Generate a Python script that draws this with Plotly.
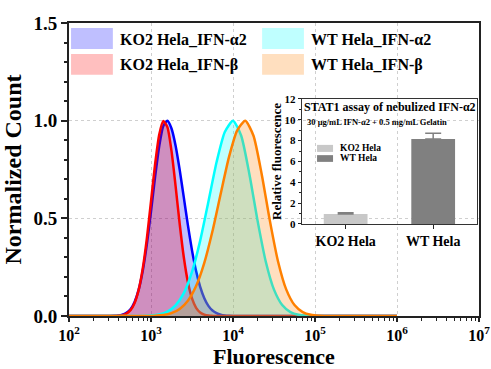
import plotly.graph_objects as go

# ---------------- data ----------------
# x positions are log10(fluorescence)
ko2_a2_logx = [2.0, 2.50, 2.55, 2.60, 2.65, 2.70, 2.75, 2.80, 2.85, 2.90, 2.95, 3.00, 3.05, 3.10, 3.15,
               3.20, 3.25, 3.30, 3.35, 3.40, 3.45, 3.50, 3.55, 3.60, 3.65, 3.70, 3.75, 3.80,
               3.85, 3.90, 3.95, 4.00, 6.0]
ko2_a2_y = [0.0, 0.0003, 0.0008, 0.0024, 0.0065, 0.016, 0.035, 0.072, 0.135, 0.233, 0.369, 0.535, 0.712,
            0.869, 0.973, 0.999, 0.960, 0.872, 0.748, 0.607, 0.465, 0.336, 0.230, 0.149, 0.091,
            0.052, 0.028, 0.015, 0.007, 0.003, 0.0014, 0.0005, 0.0]

ko2_b_logx = [2.0, 2.55, 2.60, 2.65, 2.70, 2.75, 2.80, 2.85, 2.90, 2.95, 3.00, 3.05, 3.10, 3.15, 3.20,
              3.25, 3.30, 3.35, 3.40, 3.45, 3.50, 3.55, 3.60, 3.65, 3.70, 3.75, 6.0]
ko2_b_y = [0.0, 0.0005, 0.0015, 0.0044, 0.012, 0.030, 0.067, 0.135, 0.245, 0.399, 0.587, 0.777, 0.928,
           0.998, 0.967, 0.845, 0.665, 0.471, 0.301, 0.174, 0.090, 0.042, 0.018, 0.007, 0.002,
           0.0007, 0.0]

wt_a2_logx = [2.0, 2.9, 3.0, 3.1, 3.2, 3.3, 3.4, 3.5, 3.6, 3.7, 3.8, 3.9, 4.0, 4.1, 4.2, 4.3, 4.4, 4.5,
              4.6, 4.7, 4.8, 4.9, 5.0, 6.0]
wt_a2_y = [0.0, 0.0006, 0.0026, 0.008, 0.022, 0.054, 0.117, 0.226, 0.386, 0.585, 0.788, 0.942, 1.0,
           0.923, 0.726, 0.487, 0.278, 0.135, 0.056, 0.020, 0.006, 0.0015, 0.0003, 0.0]

wt_b_logx = [2.0, 2.95, 3.05, 3.15, 3.25, 3.35, 3.45, 3.55, 3.65, 3.75, 3.85, 3.95, 4.05, 4.15, 4.25,
             4.35, 4.45, 4.55, 4.65, 4.75, 4.85, 4.95, 5.05, 5.15, 6.0]
wt_b_y = [0.0, 0.0005, 0.0018, 0.0055, 0.015, 0.036, 0.078, 0.153, 0.272, 0.435, 0.626, 0.812, 0.949,
          1.0, 0.923, 0.726, 0.487, 0.278, 0.135, 0.056, 0.020, 0.006, 0.0015, 0.0003, 0.0]

series_names = ["KO2 Hela_IFN-α2", "KO2 Hela_IFN-β", "WT Hela_IFN-α2", "WT Hela_IFN-β"]
line_colors = ["#0000ff", "#ff0000", "#00ffff", "#ff8000"]
fill_colors = ["rgba(0,0,255,0.25)", "rgba(255,0,0,0.25)", "rgba(0,255,255,0.25)", "rgba(255,128,0,0.25)"]

inset_categories = ["KO2 Hela", "WT Hela"]
inset_values = [0.97, 8.15]
inset_errors = [0.10, 0.55]
inset_colors = ["#c8c8c8", "#808080"]

x_tick_exponents = [2, 3, 4, 5, 6, 7]

# ---------------- figure ----------------
FONT = "Liberation Serif, Times New Roman, serif"
fig = go.Figure()

all_series = [(ko2_a2_logx, ko2_a2_y), (ko2_b_logx, ko2_b_y), (wt_a2_logx, wt_a2_y), (wt_b_logx, wt_b_y)]
for (lx, yy), name, lc, fc in zip(all_series, series_names, line_colors, fill_colors):
    fig.add_trace(go.Scatter(
        x=[10 ** v for v in lx], y=yy, name=name, mode="lines",
        line=dict(color=lc, width=2.5, shape="spline", smoothing=0.6),
        fill="tozeroy", fillcolor=fc, showlegend=False, xaxis="x", yaxis="y",
    ))

fig.add_trace(go.Bar(
    x=inset_categories, y=inset_values, marker=dict(color=inset_colors, line=dict(width=0)),
    width=0.5, xaxis="x2", yaxis="y2", showlegend=False,
    error_y=dict(type="data", array=inset_errors, arrayminus=[0, 0], symmetric=False,
                 color="#808080", thickness=1.5, width=8),
))

fig.update_layout(
    width=491, height=369,
    margin=dict(l=69, r=12, t=23, b=53, autoexpand=False),
    paper_bgcolor="white", plot_bgcolor="rgba(0,0,0,0)",
    font=dict(family=FONT, color="black", weight="bold"),
    xaxis=dict(
        type="log", range=[2, 7], domain=[0, 1], automargin=False,
        tickvals=[10 ** e for e in x_tick_exponents],
        ticktext=["<b>10<sup>%d</sup></b>" % e for e in x_tick_exponents],
        ticklabeloverflow="allow",
        ticks="outside", ticklen=4, tickwidth=1.5, tickcolor="#222",
        tickfont=dict(size=16, family=FONT, weight="bold"),
        showgrid=True, gridcolor="#cfcfcf", griddash="dot", gridwidth=1,
        minor=dict(ticks="outside", ticklen=3, tickcolor="#222", tickwidth=1,
                   tickvals=[m * 10 ** e for e in x_tick_exponents[:-1] for m in range(2, 10)],
                   showgrid=False),
        zeroline=False, showline=True, linecolor="#222", linewidth=1.8, mirror=True,
    ),
    yaxis=dict(
        range=[0, 1.5], domain=[0, 1], dtick=0.5, tickformat=".1f", automargin=False,
        ticks="outside", ticklen=6, tickwidth=1.5, tickcolor="#222",
        tickfont=dict(size=19, family=FONT, weight="bold"),
        showgrid=True, gridcolor="#cfcfcf", griddash="dot", gridwidth=1,
        minor=dict(ticks="outside", ticklen=3, tickcolor="#222", dtick=0.1, showgrid=False),
        title=dict(text="Normalized Count", font=dict(size=24, family=FONT, weight="bold"), standoff=6),
        zeroline=False, showline=True, linecolor="#222", linewidth=1.8, mirror=True,
    ),
    xaxis2=dict(
        domain=[0.568, 0.995], anchor="y2", range=[-0.5, 1.5], automargin=False,
        ticks="outside", ticklen=4, tickwidth=1, tickcolor="#222",
        tickfont=dict(size=14, family=FONT, weight="bold"),
        showgrid=False, zeroline=False, showline=True, linecolor="#333", linewidth=1.2, mirror=True,
    ),
    yaxis2=dict(
        domain=[0.314, 0.741], anchor="x2", range=[0, 12], dtick=2, automargin=False,
        ticks="outside", ticklen=3, tickwidth=1, tickcolor="#222",
        tickfont=dict(size=11, family=FONT, weight="bold"),
        minor=dict(ticks="outside", ticklen=2, tickcolor="#222", dtick=1, showgrid=False),
        showgrid=False, zeroline=False, showline=True, linecolor="#333", linewidth=1.2, mirror=True,
        title=dict(text="Relative fluorescence", font=dict(size=13, family=FONT, weight="bold"), standoff=0),
    ),
)

# x-axis title as an annotation so it sits just under the tick labels
fig.add_annotation(xref="paper", yref="paper", x=0.5, y=-0.138, text="Fluorescence",
                   showarrow=False, xanchor="center", yanchor="middle",
                   font=dict(size=22, family=FONT, weight="bold", color="black"))

# ---------------- main legend (manual, 2 x 2) ----------------
legend_cells = [
    (0.005, 0.107, 0.911, 0.983, 0.120, 0.945),
    (0.005, 0.107, 0.823, 0.894, 0.120, 0.857),
    (0.471, 0.573, 0.911, 0.983, 0.585, 0.945),
    (0.471, 0.573, 0.823, 0.894, 0.585, 0.857),
]
for (x0, x1, y0, y1, tx, ty), name, fc in zip(legend_cells, series_names, fill_colors):
    fig.add_shape(type="rect", xref="paper", yref="paper", x0=x0, x1=x1, y0=y0, y1=y1,
                  fillcolor=fc, line=dict(width=0), layer="above")
    fig.add_annotation(xref="paper", yref="paper", x=tx, y=ty, text=name, showarrow=False,
                       xanchor="left", yanchor="middle",
                       font=dict(size=16, family=FONT, weight="bold", color="black"))

# ---------------- inset texts and legend ----------------
fig.add_annotation(xref="paper", yref="paper", x=0.782, y=0.713, text="STAT1 assay of nebulized IFN-α2",
                   showarrow=False, xanchor="center", yanchor="middle",
                   font=dict(size=12, family=FONT, weight="bold", color="black"))
fig.add_annotation(xref="paper", yref="paper", x=0.576, y=0.662,
                   text="30 μg/mL IFN-α2 + 0.5 mg/mL Gelatin",
                   showarrow=False, xanchor="left", yanchor="middle",
                   font=dict(size=8.5, family=FONT, weight="bold", color="black"))
inset_leg = [(0.605, 0.644, 0.560, 0.584, 0.656, 0.573), (0.605, 0.644, 0.526, 0.549, 0.656, 0.538)]
for (x0, x1, y0, y1, tx, ty), name, col in zip(inset_leg, inset_categories, inset_colors):
    fig.add_shape(type="rect", xref="paper", yref="paper", x0=x0, x1=x1, y0=y0, y1=y1,
                  fillcolor=col, line=dict(width=0))
    fig.add_annotation(xref="paper", yref="paper", x=tx, y=ty, text=name, showarrow=False,
                       xanchor="left", yanchor="middle",
                       font=dict(size=9.5, family=FONT, weight="bold", color="black"))

fig.write_html("out.html")
